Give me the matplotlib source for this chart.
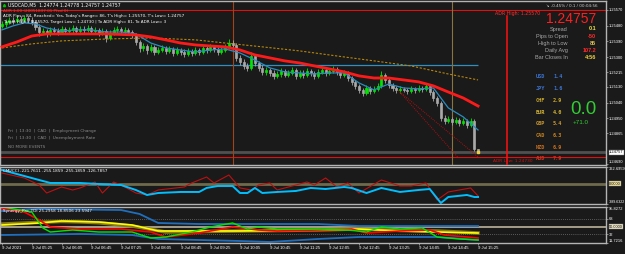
import matplotlib
matplotlib.use("Agg")
import matplotlib.pyplot as plt
import matplotlib.transforms as mtransforms
import numpy as np

# prices are stored as points above 1.24000
BASE = 1.24
PT = 1e-5

# USDCAD M5, 9 Jul 2021 04:45 .. 15:25
closes = [1490, 1501, 1513, 1507, 1519, 1513, 1524, 1513, 1501, 1473,
          1444, 1450, 1433, 1456, 1452, 1444, 1461, 1450, 1456, 1467,
          1450, 1461, 1456, 1467, 1450, 1456, 1439, 1450, 1410, 1439,
          1456, 1461, 1450, 1456, 1444, 1427, 1387, 1353, 1364, 1341,
          1359, 1330, 1341, 1353, 1336, 1347, 1324, 1341, 1330, 1319,
          1336, 1324, 1341, 1330, 1353, 1341, 1359, 1347, 1330, 1341,
          1359, 1381, 1370, 1296, 1273, 1250, 1239, 1307, 1267, 1239,
          1216, 1227, 1210, 1193, 1204, 1221, 1199, 1210, 1227, 1193,
          1210, 1199, 1221, 1210, 1193, 1216, 1227, 1210, 1221, 1233,
          1216, 1199, 1210, 1181, 1159, 1136, 1113, 1096, 1124, 1107,
          1119, 1136, 1199, 1170, 1141, 1124, 1113, 1119, 1113, 1107,
          1119, 1113, 1124, 1119, 1136, 1101, 1067, 1039, 953, 936,
          947, 930, 941, 924, 936, 913, 936, 774, 757]
highs = [1508, 1518, 1530, 1531, 1536, 1534, 1542, 1537, 1527, 1514,
         1489, 1468, 1462, 1473, 1471, 1466, 1476, 1475, 1470, 1485,
         1480, 1478, 1477, 1486, 1481, 1472, 1468, 1466, 1462, 1455,
         1474, 1478, 1475, 1470, 1469, 1457, 1439, 1401, 1381, 1377,
         1375, 1370, 1359, 1369, 1365, 1364, 1359, 1358, 1354, 1344,
         1352, 1349, 1357, 1355, 1369, 1366, 1375, 1372, 1360, 1357,
         1377, 1403, 1396, 1383, 1310, 1289, 1264, 1328, 1320, 1280,
         1254, 1244, 1241, 1224, 1221, 1239, 1234, 1227, 1245, 1240,
         1227, 1224, 1239, 1235, 1223, 1233, 1245, 1240, 1238, 1252,
         1246, 1229, 1227, 1222, 1194, 1172, 1149, 1126, 1140, 1137,
         1136, 1154, 1222, 1212, 1183, 1154, 1137, 1135, 1132, 1126,
         1135, 1132, 1140, 1137, 1154, 1148, 1113, 1080, 1051, 968,
         964, 960, 958, 954, 953, 949, 954, 948, 778]
lows = [1464, 1475, 1488, 1491, 1495, 1497, 1501, 1498, 1486, 1455,
        1421, 1430, 1415, 1420, 1436, 1428, 1432, 1434, 1438, 1441,
        1436, 1437, 1441, 1443, 1433, 1435, 1422, 1424, 1386, 1396,
        1426, 1441, 1434, 1435, 1429, 1409, 1367, 1332, 1338, 1321,
        1327, 1313, 1317, 1327, 1320, 1322, 1306, 1310, 1313, 1301,
        1306, 1307, 1311, 1314, 1318, 1325, 1328, 1331, 1315, 1316,
        1328, 1345, 1354, 1276, 1254, 1231, 1220, 1224, 1250, 1221,
        1198, 1200, 1193, 1176, 1179, 1189, 1184, 1184, 1197, 1177,
        1180, 1182, 1186, 1194, 1177, 1180, 1203, 1195, 1197, 1207,
        1201, 1182, 1185, 1164, 1142, 1119, 1096, 1079, 1082, 1091,
        1093, 1104, 1122, 1153, 1125, 1107, 1098, 1098, 1099, 1092,
        1095, 1097, 1100, 1103, 1106, 1084, 1050, 1021, 936, 918,
        922, 913, 917, 907, 911, 896, 901, 762, 757]
opens = [1480] + closes[:-1]

# moving averages read at sample bars
ma_red_idx = [0, 4, 8, 12, 20, 28, 36, 40, 44, 48, 52, 56, 60, 64, 68, 72, 76, 80,
              84, 88, 92, 96, 100, 104, 108, 112, 116, 120, 124, 128]
ma_red = [1359, 1387, 1421, 1433, 1433, 1433, 1427, 1416, 1399, 1381, 1370, 1364, 1359,
          1341, 1313, 1296, 1279, 1267, 1250, 1233, 1216, 1193, 1181, 1181, 1170, 1159,
          1136, 1101, 1067, 1021]
ma_blue_idx = [0, 3, 6, 9, 12, 16, 20, 24, 28, 32, 36, 40, 44, 48, 52, 56, 60, 64, 68,
               72, 76, 80, 84, 88, 92, 96, 100, 102, 104, 108, 112, 116, 118, 120, 124, 128]
ma_blue = [1456, 1479, 1496, 1490, 1467, 1450, 1456, 1456, 1444, 1444, 1433, 1381, 1353,
           1341, 1330, 1341, 1347, 1324, 1284, 1239, 1216, 1210, 1204, 1210, 1210, 1153,
           1113, 1130, 1147, 1124, 1119, 1124, 1067, 1010, 959, 884]
ma_slow_idx = [0, 8, 16, 28, 40, 52, 60, 70, 80, 90, 100, 110, 120, 128]
ma_slow = [1353, 1376, 1393, 1404, 1410, 1399, 1381, 1359, 1336, 1307, 1279, 1250, 1204, 1170]

level_blue = 1256          # horizontal line
adr_high, adr_low = 1570, 730
bid = 757
vlines_idx = [62, 121]
adr_line_idx = 135.8
trend_a_idx, trend_a = [106.5, 128], [1110, 730]
trend_b_idx, trend_b = [107, 122.5], [1100, 730]

# CMI/CCI panel
cci_cyan_idx = [0, 10, 13, 21, 26, 32, 36, 39, 42, 48, 53, 55, 58, 62, 64, 66, 68, 70,
                74, 79, 83, 87, 92, 94, 98, 102, 107, 112, 115, 118, 120, 125, 127, 128]
cci_cyan = [265, 72, 15, 15, -5, -24, -120, -216, -178, -158, -158, -81, -43, -43, -178,
            -178, -81, -178, -158, -139, -81, -101, -62, -81, -178, -81, -158, -120, -101,
            -370, -255, -216, -255, -255]
cci_red_idx = [0, 6, 10, 12, 16, 19, 21, 25, 27, 30, 32, 36, 39, 42, 49, 51, 55, 57, 61,
               64, 67, 69, 72, 74, 79, 82, 84, 87, 90, 93, 96, 102, 107, 110, 114, 117,
               120, 126, 128]
cci_red = [207, 111, -24, -178, -62, -120, -81, 34, -178, 34, -24, -178, -216, -120, -62,
           15, 130, 15, 169, -81, -120, -24, 15, -120, -24, 34, -24, 111, -62, 15, -178,
           72, -43, -43, 15, -312, -158, -81, -235]

# Synergy TDI panel
tdi_up_idx = [0, 10, 32, 37, 42, 53, 85, 96, 128]
tdi_up = [86.5, 91.2, 88.8, 79.5, 58.5, 56.1, 56.1, 51.4, 51.4]
tdi_lo_idx = [0, 21, 35, 42, 64, 72, 85, 96, 107, 117, 128]
tdi_lo = [30.4, 32.8, 30.4, 21.1, 16.4, 14.1, 21.1, 25.7, 25.7, 25.7, 18.7]
tdi_yel_idx = [0, 10, 16, 26, 35, 42, 64, 85, 96, 107, 117, 128]
tdi_yel = [53.8, 58.5, 63.1, 60.8, 53.8, 39.8, 39.8, 42.1, 44.4, 39.8, 37.4, 35.1]
tdi_olv_idx = [0, 10, 16, 21, 26, 35, 44, 64, 85, 96, 107, 117, 123, 128]
tdi_olv = [56.0, 60.0, 62.0, 61.0, 59.0, 51.4, 37.4, 39.8, 42.1, 44.4, 41.0, 39.8, 37.4, 35.1]
tdi_red_idx = [0, 6, 10, 13, 21, 32, 40, 44, 53, 62, 69, 74, 85, 94, 98, 107, 115, 119,
               125, 128]
tdi_red = [91.2, 84.1, 65.5, 49.1, 44.4, 44.4, 37.4, 25.7, 35.1, 49.1, 42.1, 39.8, 42.1,
           44.4, 35.1, 39.8, 42.1, 30.4, 25.7, 23.4]
tdi_grn_idx = [0, 8, 11, 13, 19, 26, 35, 40, 44, 51, 56, 62, 66, 69, 74, 85, 93, 98, 102,
               107, 113, 117, 123, 128]
tdi_grn = [95.8, 84.1, 46.8, 37.4, 42.1, 37.4, 37.4, 23.4, 25.7, 37.4, 49.1, 58.5, 44.4,
           49.1, 44.4, 44.4, 42.1, 37.4, 49.1, 44.4, 46.8, 25.7, 21.1, 18.7]

time_idx = [0, 8, 16, 24, 32, 40, 48, 56, 64, 72, 80, 88, 96, 104, 112, 120, 128]
time_labels = ["9 Jul 2021", "9 Jul 05:25", "9 Jul 06:05", "9 Jul 06:45", "9 Jul 07:25",
               "9 Jul 08:05", "9 Jul 08:45", "9 Jul 09:25", "9 Jul 10:05", "9 Jul 10:45",
               "9 Jul 11:25", "9 Jul 12:05", "9 Jul 12:45", "9 Jul 13:25", "9 Jul 14:05",
               "9 Jul 14:45", "9 Jul 15:25"]

price_ticks = [1.25570, 1.25480, 1.25390, 1.25300, 1.25215, 1.25130, 1.25040,
               1.24950, 1.24865, 1.24690]

currencies = ["USD", "JPY", "CHF", "EUR", "GBP", "CAD", "NZD", "AUD"]
strength = ["1.4", "1.6", "2.9", "4.0", "5.4", "6.3", "6.9", "7.9"]
cur_colors = ["#3c74d0", "#3c74d0", "#c8a82a", "#d4b434", "#c8962e", "#c8821e",
              "#c86e1e", "#d2321e"]

info_names = ["Spread", "Pips to Open", "High to Low", "Daily Avg", "Bar Closes In"]
info_values = ["0.1", "-50", "86", "107.2", "4:56"]
info_colors = ["#f0e040", "#ff2a2a", "#e0c050", "#ff2a2a", "#f0d040"]

BG = "#1a1a1a"
FRAME = "#b4b4b4"
AXFONT = "Liberation Sans"
W, H = 625, 254
XMIN, XMAX = -0.54, 162.4


def p(v):
    return BASE + np.asarray(v, dtype=float) * PT


fig = plt.figure(figsize=(6.25, 2.54), dpi=100)
fig.patch.set_facecolor(BG)


def panel(top, bottom):
    a = fig.add_axes([0, (H - bottom) / H, 606 / W, (bottom - top) / H])
    a.set_facecolor(BG)
    a.set_xlim(XMIN, XMAX)
    for s in a.spines.values():
        s.set_color(FRAME)
        s.set_linewidth(1.0)
    a.yaxis.tick_right()
    a.tick_params(axis="y", colors=FRAME, labelcolor="white", labelsize=2.9,
                  length=1.5, width=0.5, pad=0.6)
    a.tick_params(axis="x", bottom=False, labelbottom=False)
    return a


def side_box(a, value, text, face):
    tr = mtransforms.blended_transform_factory(a.transAxes, a.transData)
    a.text(1.005, value, text, transform=tr, fontsize=2.9, family=AXFONT, color="black",
           va="center", ha="left", clip_on=False,
           bbox=dict(facecolor=face, edgecolor="#808080", pad=0.3, lw=0.3))


ax = panel(1, 165)
cci = panel(167, 204)
tdi = panel(207, 243)

# ---- main chart
ax.set_ylim(1.24684, 1.25621)
x = np.arange(len(closes))
o, c, hi, lo = p(opens), p(closes), p(highs), p(lows)
up = c > o
cols = np.where(up, "#00e600", "#a8a8a8")
ax.axhline(p(bid), color="#505050", lw=2, zorder=1)
ax.axhline(p(adr_high), color="#e01010", lw=0.8, zorder=2)
ax.axhline(p(adr_low), color="#e01010", lw=0.8, zorder=2)
ax.hlines(p(level_blue), XMIN, x[-1], color="#2f8fc0", lw=0.9, zorder=2)
ax.axvline(vlines_idx[0], color="#a0441c", lw=0.8, zorder=2)
ax.axvline(vlines_idx[1], color="#8a7440", lw=0.8, zorder=2)
ax.vlines(x, lo, hi, colors=cols, lw=0.6, zorder=3)
body = np.maximum(np.abs(c - o), 2 * PT)
ax.bar(x, body, bottom=np.minimum(o, c), width=0.55, color=cols, edgecolor=cols,
       lw=0.5, zorder=4)
ax.plot(ma_slow_idx, p(ma_slow), color="#b8860b", lw=0.8, dashes=(2, 1.5), zorder=5)
ax.plot(ma_blue_idx, p(ma_blue), color="#2a8cc0", lw=0.9, zorder=5)
ax.plot(ma_red_idx, p(ma_red), color="#ff1a1a", lw=2.0, zorder=6)
ax.plot(trend_a_idx, p(trend_a), color="#b01010", lw=0.7, ls=(0, (1, 1.2)), zorder=5)
ax.plot(trend_b_idx, p(trend_b), color="#b01010", lw=0.7, ls=(0, (1, 1.2)), zorder=5)
ax.plot([x[-1]], [p(bid)], marker="s", ms=1.5, color="#f0d040", zorder=7)
ax.axvline(adr_line_idx, ymin=0.0, ymax=0.91, color="#ff1010", lw=1.1, zorder=6)
ax.set_yticks(price_ticks)
ax.set_yticklabels([f"{t:.5f}" for t in price_ticks], family=AXFONT)
ax.get_yticklabels()[-1].set_va("bottom")
side_box(ax, p(bid), f"{p(bid):.5f}", "white")

# ---- CMI/CCI
cci.set_ylim(-389.6322, 322.6959)
cci.axhline(0, color="#6e6a4c", lw=2)
cci.plot(cci_red_idx, cci_red, color="#c01010", lw=0.8)
cci.plot(cci_cyan_idx, cci_cyan, color="#00bfff", lw=1.4)
cci.set_yticks([322.6959, -389.6322])
cci.set_yticklabels(["322.6959", "-389.6322"], family=AXFONT)
cci.get_yticklabels()[0].set_va("top")
cci.get_yticklabels()[1].set_va("bottom")
cci.get_yticklabels()[1].set_fontsize(2.6)
side_box(cci, 0, "0.0000", "#f5e6a0")

# ---- Synergy TDI
tdi.set_ylim(11.7216, 95.8272)
tdi.axhline(68, color="#707070", lw=0.6, ls=(0, (1, 1.5)))
tdi.axhline(32, color="#707070", lw=0.6, ls=(0, (1, 1.5)))
tdi.axhline(50, color="#c8c0a8", lw=1.1)
tdi.plot(tdi_up_idx, tdi_up, color="#1f6fbf", lw=1.3)
tdi.plot(tdi_lo_idx, tdi_lo, color="#1f6fbf", lw=1.3)
tdi.plot(tdi_olv_idx, tdi_olv, color="#8a7a18", lw=2.5)
tdi.plot(tdi_yel_idx, tdi_yel, color="#ffff00", lw=1.2)
tdi.plot(tdi_red_idx, tdi_red, color="#ff0000", lw=1.2)
tdi.plot(tdi_grn_idx, tdi_grn, color="#00e600", lw=1.0)
tdi.set_yticks([95.8272, 68, 32, 11.7216])
tdi.set_yticklabels(["95.8272", "68", "32", "11.7216"], family=AXFONT)
tdi.get_yticklabels()[0].set_va("top")
tdi.get_yticklabels()[-1].set_va("bottom")
side_box(tdi, 50, "50.0000", "#f0e8c8")
tdi.set_xticks(time_idx)
tdi.set_xticklabels(time_labels, family=AXFONT)
tdi.tick_params(axis="x", bottom=True, labelbottom=True, colors=FRAME, labelcolor="white",
                labelsize=3.1, length=1.5, width=0.5, pad=1)
for lab in tdi.get_xticklabels():
    lab.set_ha("left")

# ---- overlay texts (pixel coordinates)
ov = fig.add_axes([0, 0, 1, 1])
ov.set_xlim(0, W)
ov.set_ylim(H, 0)
ov.axis("off")
ov.patch.set_alpha(0)

small = dict(fontsize=3.0, va="center", ha="left")
ov.text(8, 5, "USDCAD,M5  1.24774 1.24778 1.24757 1.24757", color="white", fontsize=3.3,
        va="center", ha="left")
ov.plot([4], [5], marker="^", ms=1.6, color="#00c000")
ov.text(3, 10.5, "ADR 1.00 (20051837 01 Pfed 0)", color="#ff3030", **small)
ov.text(3, 16, "ADR Pips= 84, Reached= Yes, Today's Range= 86, T's High= 1.25570, "
        "T's Low= 1.24757", color="white", **small)
ov.text(3, 22, "Target High= 1.25570, Target Low= 1.24730 | To ADR High= 81, "
        "To ADR Low= 3", color="white", **small)

news = ["Fri  |  13:30  |  CAD  |  Employment Change",
        "Fri  |  13:30  |  CAD  |  Unemployment Rate"]
for k, line in enumerate(news):
    ov.text(8, 131 + 7 * k, line, color="#8c8c8c", **small)
ov.text(8, 147, "NO MORE EVENTS", color="#8c8c8c", **small)

ov.text(495, 14, "ADR High: 1.25570", color="#ff3030", fontsize=3.4, va="center", ha="left")
ov.text(493, 161.5, "ADR Low: 1.24730", color="#d01010", fontsize=3.2, va="center", ha="left")
ov.text(598, 6, "\u2198 -0.45% / 0.1 / 00:04:56", color="#d0d0d0", fontsize=3.0,
        va="center", ha="right")
ov.text(571, 19, "1.24757", color="#ff2020", fontsize=10, family="Liberation Sans",
        va="center", ha="center")
for k, (name, val, col) in enumerate(zip(info_names, info_values, info_colors)):
    yy = 29 + 7.2 * k
    ov.text(568, yy, name, color="#a8a8a8", fontsize=4.0, family="Liberation Sans",
            va="center", ha="right")
    ov.text(596, yy, val, color=col, fontsize=4.0, family="Liberation Sans",
            va="center", ha="right", weight="bold")
for k, (cur, val, col) in enumerate(zip(currencies, strength, cur_colors)):
    yy = 77 + 11.7 * k
    ov.text(536, yy, cur, color=col, fontsize=3.8, family="DejaVu Sans Mono",
            va="center", ha="left", weight="bold")
    ov.text(553, yy, val, color=col, fontsize=3.8, family="DejaVu Sans Mono",
            va="center", ha="left", weight="bold")
ov.text(583, 110, "0.0", color="#32cd32", fontsize=13.5, family="Liberation Sans",
        va="center", ha="center")
ov.text(581, 122, "+71.0", color="#32cd32", fontsize=4.5, family="Liberation Sans",
        va="center", ha="center")

ov.text(3, 171, "CMI/CCI -221.7611 -255.1859 -255.1859 -126.7857", color="white", **small)
ov.text(3, 211, "Synergy_Pro_TDI 25.2958 18.8506 23.5947", color="white", **small)

fig.savefig("out.png", dpi=100, facecolor=BG)
